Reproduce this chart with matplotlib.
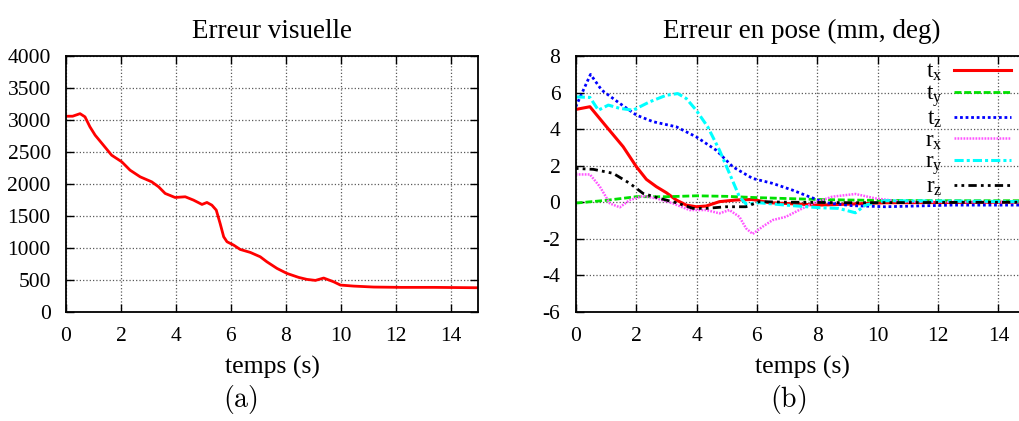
import matplotlib
matplotlib.use("Agg")
import matplotlib.pyplot as plt
import numpy as np

plt.rcParams['font.family'] = ['Liberation Serif', 'DejaVu Serif']
plt.rcParams['mathtext.fontset'] = 'custom'
plt.rcParams['mathtext.rm'] = 'Liberation Serif'
plt.rcParams['mathtext.it'] = 'Liberation Serif:italic'
plt.rcParams['axes.unicode_minus'] = False

# --- Erreur visuelle ---
t_vis = [0, 0.24, 0.51, 0.69, 0.87, 1.06, 1.36, 1.66, 2.03, 2.33, 2.70, 3.12, 3.37,
         3.61, 3.97, 4.34, 4.64, 4.95, 5.13, 5.31, 5.47, 5.61, 5.74, 5.86, 6.10, 6.34,
         6.71, 7.07, 7.31, 7.68, 8.04, 8.47, 8.77, 9.08, 9.38, 9.74, 9.99, 10.47, 11.2,
         12.2, 13.4, 15.0]
err_vis = [3060, 3060, 3100, 3050, 2894, 2763, 2607, 2450, 2346, 2216, 2111, 2033, 1955,
           1851, 1788, 1799, 1747, 1679, 1710, 1668, 1590, 1382, 1173, 1095, 1043, 975,
           928, 860, 782, 678, 600, 537, 506, 490, 527, 469, 417, 401, 386,
           381, 381, 375]

# --- Erreur en pose ---
t_tx = [0, 0.47, 1.02, 1.57, 2.01, 2.34, 2.67, 3.0, 3.33, 3.66, 3.99, 4.32, 4.76, 5.31,
        5.86, 6.41, 6.96, 8.05, 9.15, 10.25, 15.0]
tx = [5.08, 5.23, 4.13, 3.04, 1.94, 1.25, 0.85, 0.52, 0.12, -0.16, -0.25, -0.21, 0.03,
      0.12, 0.15, -0.03, -0.07, -0.16, -0.1, -0.03, 0.0]

t_ty = [0, 1, 2, 3, 4, 5, 6, 7, 8, 9, 10, 12, 15]
ty = [-0.05, 0.1, 0.3, 0.3, 0.35, 0.32, 0.25, 0.2, 0.15, 0.12, 0.1, 0.08, 0.08]

t_tz = [0, 0.49, 0.86, 1.46, 2.01, 2.56, 3.33, 3.99, 4.65, 5.2, 5.86, 6.52, 7.18, 7.73,
        8.27, 9.15, 10.25, 12.45, 15.0]
tz = [5.23, 7.0, 6.14, 5.41, 4.77, 4.41, 4.13, 3.58, 2.85, 1.94, 1.3, 1.03, 0.66, 0.3,
      -0.03, -0.19, -0.25, -0.16, -0.16]

t_rx = [0, 0.47, 0.8, 1.13, 1.46, 1.79, 2.23, 2.67, 3.22, 3.77, 4.32, 4.76, 5.09, 5.42,
        5.64, 5.86, 6.19, 6.52, 6.96, 7.4, 7.84, 8.49, 9.26, 9.92, 10.8, 15.0]
rx = [1.52, 1.52, 0.85, -0.07, -0.28, 0.12, 0.34, 0.21, -0.07, -0.43, -0.43, -0.61,
      -0.43, -0.8, -1.43, -1.74, -1.34, -0.98, -0.8, -0.43, -0.07, 0.3, 0.45, 0.21,
      0.03, 0.0]

t_ry = [0, 0.47, 0.75, 1.08, 1.46, 1.9, 2.45, 3.0, 3.38, 3.66, 3.99, 4.37, 4.76, 5.09,
        5.42, 5.64, 6.08, 6.96, 8.05, 8.71, 9.26, 9.59, 10.25, 15.0]
ry = [5.77, 5.74, 5.04, 5.32, 5.14, 5.04, 5.5, 5.86, 5.95, 5.68, 5.04, 4.13, 2.85, 1.58,
      0.3, -0.1, -0.03, -0.16, -0.3, -0.34, -0.58, -0.16, 0.08, 0.03]

t_rz = [0, 0.58, 1.24, 1.79, 2.23, 2.78, 3.33, 3.88, 4.32, 4.98, 5.64, 6.08, 6.96, 9.15,
        15.0]
rz = [1.85, 1.8, 1.58, 1.03, 0.48, 0.21, -0.03, -0.34, -0.34, -0.25, -0.25, 0.03, 0.0,
      -0.03, 0.0]

x_ticks = [0, 2, 4, 6, 8, 10, 12, 14]

fig = plt.figure(figsize=(10.19, 4.21), dpi=100)
ax1 = fig.add_axes([0.0648, 0.2596, 0.4043, 0.607])
ax2 = fig.add_axes([0.565, 0.2596, 0.4445, 0.607])


def style_axes(ax):
    ax.grid(True, linestyle=':', color='0.35', linewidth=0.9)
    ax.tick_params(direction='in', top=True, right=True, length=6, width=1,
                   labelsize=15.5, pad=11)
    for sp in ax.spines.values():
        sp.set_linewidth(1.3)
    ax.set_xticks(x_ticks)
    ax.set_xlabel('temps (s)', fontsize=18.5, labelpad=7)


ax1.plot(t_vis, err_vis, color='red', lw=2)
ax1.set_xlim(0, 15)
ax1.set_ylim(0, 4000)
ax1.set_yticks(np.arange(0, 4001, 500))
style_axes(ax1)
ax1.set_title('Erreur visuelle', fontsize=19.5, pad=13)

ax2.plot(t_tx, tx, color='red', lw=2.2, label=r'$\mathrm{t_x}$')
ax2.plot(t_ty, ty, color='#00e000', lw=2, ls=(0, (2.5, 1)), label=r'$\mathrm{t_y}$')
ax2.plot(t_tz, tz, color='#0000ff', lw=2, ls=(0, (1, 1)), label=r'$\mathrm{t_z}$')
ax2.plot(t_rx, rx, color='#ff55ff', lw=1.8, ls=(0, (0.7, 0.5)), label=r'$\mathrm{r_x}$')
ax2.plot(t_ry, ry, color='#00ffff', lw=2.2, ls=(0, (3, 1, 1, 1)), label=r'$\mathrm{r_y}$')
ax2.plot(t_rz, rz, color='black', lw=2, ls=(0, (1, 1.5, 1, 1.5, 3, 1.5)),
         label=r'$\mathrm{r_z}$')
ax2.set_xlim(0, 15)
ax2.set_ylim(-6, 8)
ax2.set_yticks(np.arange(-6, 9, 2))
style_axes(ax2)
ax2.set_title('Erreur en pose (mm, deg)', fontsize=19.5, pad=13)
ax2.legend(loc='upper left', bbox_to_anchor=(0.735, 1.04), frameon=False,
           markerfirst=False, fontsize=16.5, handlelength=2.5, labelspacing=0.0,
           handletextpad=0.5, borderpad=0.2)

fig.text(240 / 1019, 1 - 400 / 421, r'$\mathrm{(a)}$', ha='center', va='center',
         fontsize=20, math_fontfamily='cm')
fig.text(788 / 1019, 1 - 400 / 421, r'$\mathrm{(b)}$', ha='center', va='center',
         fontsize=20, math_fontfamily='cm')

fig.savefig('out.png', dpi=100)
